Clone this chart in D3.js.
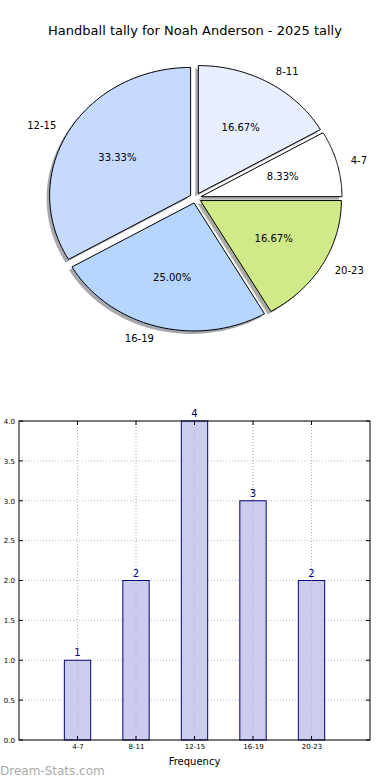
<!DOCTYPE html>
<html>
<head>
<meta charset="utf-8">
<script src="https://cdn.jsdelivr.net/npm/d3@7"></script>
<style>
html,body{margin:0;padding:0;background:#fff;}
svg{display:block;font-family:"DejaVu Sans",sans-serif;}
</style>
</head>
<body>
<svg id="c" width="390" height="780"></svg>
<script>
const categories = ["4-7", "8-11", "12-15", "16-19", "20-23"];
const counts = [1, 2, 4, 3, 2];
const sliceColors = ["#ffffff", "#e8f0ff", "#c6d9ff", "#b6d6ff", "#d0ea8a"];
const yTicks = [0, 0.5, 1, 1.5, 2, 2.5, 3, 3.5, 4];
const title = "Handball tally for Noah Anderson - 2025 tally";

const svg = d3.select("#c");

// Title
svg.append("text").attr("x", 195).attr("y", 35).attr("text-anchor", "middle")
  .attr("font-size", 13).attr("fill", "#000").text(title);

// ---- Pie (elliptical, exploded, with shadow) ----
const cx = 195.5, cy = 198, rx = 141, ry = 128, explode = 0.04;
const total = d3.sum(counts);
const angScale = d3.scaleLinear().domain([0, total]).range([0, 360]);
let cum = 0;
const slices = counts.map((v, i) => {
  const a0 = angScale(cum); cum += v; const a1 = angScale(cum);
  return {i, v, a0, a1, mid: (a0 + a1) / 2};
});
function rad(d) { return d * Math.PI / 180; }
function slicePath(s, ox, oy) {
  const n = 60;
  const pts = [[ox, oy]];
  for (let k = 0; k <= n; k++) {
    const a = rad(s.a0 + (s.a1 - s.a0) * k / n);
    pts.push([ox + rx * Math.cos(a), oy - ry * Math.sin(a)]);
  }
  return d3.line()(pts) + "Z";
}
const pieG = svg.append("g");
slices.forEach(s => {
  s.ox = cx + explode * rx * Math.cos(rad(s.mid));
  s.oy = cy - explode * ry * Math.sin(rad(s.mid));
});
// shadows
slices.forEach(s => {
  const c = d3.rgb(sliceColors[s.i]);
  const sc = d3.rgb(c.r * 0.3, c.g * 0.3, c.b * 0.3);
  pieG.append("path").attr("d", slicePath(s, s.ox - 3, s.oy + 3))
    .attr("fill", sc).attr("fill-opacity", 0.45).attr("stroke", "none");
});
slices.forEach(s => {
  pieG.append("path").attr("d", slicePath(s, s.ox, s.oy))
    .attr("fill", sliceColors[s.i]).attr("stroke", "#000").attr("stroke-width", 1)
    .attr("stroke-linejoin", "round");
});
slices.forEach(s => {
  const a = rad(s.mid);
  const lx = s.ox + 1.1 * rx * Math.cos(a), ly = s.oy - 1.1 * ry * Math.sin(a);
  pieG.append("text").attr("x", lx).attr("y", ly).attr("dy", "0.35em")
    .attr("text-anchor", Math.cos(a) >= 0 ? "start" : "end")
    .attr("font-size", 10).text(categories[s.i]);
  const px = s.ox + 0.6 * rx * Math.cos(a), py = s.oy - 0.6 * ry * Math.sin(a);
  pieG.append("text").attr("x", px).attr("y", py).attr("dy", "0.35em")
    .attr("text-anchor", "middle").attr("font-size", 10)
    .text((s.v / total * 100).toFixed(2) + "%");
});

// ---- Bar chart ----
const L = 19, R = 370, T = 421, B = 740;
const x = d3.scaleLinear().domain([-1, 5]).range([L, R]);
const y = d3.scaleLinear().domain([0, 4]).range([B, T]);
const bw = x(0.45) - x(0);
const bg = svg.append("g");

// grid
categories.forEach((c, i) => {
  bg.append("line").attr("x1", x(i)).attr("x2", x(i)).attr("y1", T).attr("y2", B)
    .attr("stroke", "#c0c0c0").attr("stroke-dasharray", "1,2").attr("stroke-width", 1);
});
yTicks.forEach(t => {
  bg.append("line").attr("x1", L).attr("x2", R).attr("y1", y(t)).attr("y2", y(t))
    .attr("stroke", "#c0c0c0").attr("stroke-dasharray", "1,2").attr("stroke-width", 1);
});

// bars
bg.selectAll("rect.bar").data(counts).enter().append("rect")
  .attr("x", (d, i) => x(i) - bw / 2).attr("y", d => y(d))
  .attr("width", bw).attr("height", d => B - y(d))
  .attr("fill", "#ccccee").attr("fill-opacity", 1)
  .attr("stroke", "#000080").attr("stroke-width", 1);
// grid over bars (dotted lines visible through bars)
categories.forEach((c, i) => {
  bg.append("line").attr("x1", x(i)).attr("x2", x(i)).attr("y1", T).attr("y2", B)
    .attr("stroke", "#a0a0b0").attr("stroke-dasharray", "1,2").attr("stroke-width", 1).attr("opacity", 0.5);
});

// value labels
bg.selectAll("text.val").data(counts).enter().append("text")
  .attr("x", (d, i) => x(i)).attr("y", d => y(d) - 4)
  .attr("text-anchor", "middle").attr("font-size", 10).attr("fill", "#000080")
  .text(d => d);

// axes
const yAxis = d3.axisLeft(y).tickValues(yTicks).tickFormat(d3.format(".1f")).tickSize(0).tickPadding(4);
const ya = bg.append("g").attr("transform", `translate(${L},0)`).call(yAxis);
ya.select(".domain").remove();
ya.selectAll("text").attr("font-size", 7).attr("font-family", "DejaVu Sans").attr("fill", "#000");

const xAxis = d3.axisBottom(x).tickValues(d3.range(categories.length))
  .tickFormat(i => categories[i]).tickSize(0).tickPadding(4);
const xa = bg.append("g").attr("transform", `translate(0,${B})`).call(xAxis);
xa.select(".domain").remove();
xa.selectAll("text").attr("font-size", 7).attr("font-family", "DejaVu Sans").attr("fill", "#000");

// inner ticks
yTicks.forEach(t => {
  bg.append("line").attr("x1", L).attr("x2", L + 4).attr("y1", y(t)).attr("y2", y(t)).attr("stroke", "#000");
  bg.append("line").attr("x1", R - 4).attr("x2", R).attr("y1", y(t)).attr("y2", y(t)).attr("stroke", "#000");
});
categories.forEach((c, i) => {
  bg.append("line").attr("x1", x(i)).attr("x2", x(i)).attr("y1", B).attr("y2", B - 4).attr("stroke", "#000");
  bg.append("line").attr("x1", x(i)).attr("x2", x(i)).attr("y1", T).attr("y2", T + 4).attr("stroke", "#000");
});

// frame
bg.append("rect").attr("x", L).attr("y", T).attr("width", R - L).attr("height", B - T)
  .attr("fill", "none").attr("stroke", "#000").attr("stroke-width", 1);

svg.append("text").attr("x", (L + R) / 2).attr("y", 765).attr("text-anchor", "middle")
  .attr("font-size", 10).text("Frequency");

// watermark
svg.append("text").attr("x", 0).attr("y", 775).attr("font-size", 12)
  .attr("fill", "#aaaaaa").text("Dream-Stats.com");
</script>
</body>
</html>
